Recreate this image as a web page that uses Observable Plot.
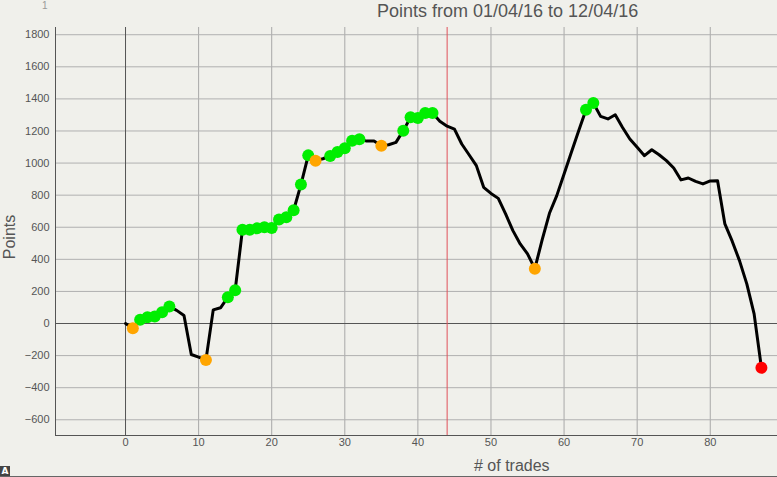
<!DOCTYPE html>
<html>
<head>
<meta charset="utf-8">
<script src="https://cdn.jsdelivr.net/npm/d3@7"></script>
<script src="https://cdn.jsdelivr.net/npm/@observablehq/plot@0.6"></script>
<style>
  body { margin: 0; background: #f0f0eb; font-family: "Liberation Sans", Arial, sans-serif; }
  #wrap { position: relative; width: 777px; height: 477px; overflow: hidden; }
  .lbl { position: absolute; color: #555; white-space: nowrap; }
</style>
</head>
<body>
<div id="wrap">
  <div id="chart"></div>
  <div class="lbl" style="left:42px;top:1px;font-size:10px;line-height:10px;color:#999">1</div>
  <div class="lbl" id="title" style="left:377px;top:1px;font-size:18px">Points from 01/04/16 to 12/04/16</div>
  <div class="lbl" style="left:-12px;top:228px;font-size:16px;transform:rotate(-90deg)">Points</div>
  <div class="lbl" style="left:474px;top:457px;font-size:16px"># of trades</div>
  <div style="position:absolute;left:0;top:466px;width:10px;height:10px;background:#444;color:#fff;font:bold 9px 'DejaVu Sans';text-align:center;line-height:10px">A</div>
  <div style="position:absolute;left:0;top:476px;width:777px;height:1px;background:#666"></div>
</div>
<script>
// cumulative points after each trade (trade 0 .. 87)
const points = [
  0, -30, 23, 39, 44, 70, 106, 82, 50, -193,
  -210, -228, 85, 98, 164, 207, 585, 585, 593, 600,
  596, 648, 662, 706, 866, 1048, 1015, 1027, 1044, 1069,
  1092, 1139, 1148, 1137, 1137, 1108, 1114, 1129, 1202, 1285,
  1281, 1312, 1312, 1260, 1230, 1212, 1119, 1052, 984, 849,
  811, 780, 683, 579, 496, 434, 342, 521, 687, 797,
  932, 1067, 1202, 1333, 1374, 1291, 1275, 1301, 1222, 1150,
  1098, 1046, 1083, 1052, 1015, 969, 895, 907, 886, 870,
  889, 890, 621, 513, 392, 247, 60, -276
];

// trades marked with a dot, by colour
const greenTrades = [2, 3, 4, 5, 6, 14, 15, 16, 17, 18, 19, 20, 21, 22, 23, 24, 25,
  28, 29, 30, 31, 32, 38, 39, 40, 41, 42, 63, 64];
const orangeTrades = [1, 11, 26, 35, 56];
const redTrades = [87];

const splitTrade = [44];
const xTicks = [0, 10, 20, 30, 40, 50, 60, 70, 80];
const yTicks = [-600, -400, -200, 0, 200, 400, 600, 800, 1000, 1200, 1400, 1600, 1800];

const xDomain = [-9.58, 89.2];
const yDomain = [-698, 1845];

const series = points.map((p, i) => ({trade: i, points: p}));
const dots = (list, color) => list.map(i => ({trade: i, points: points[i], color}));
const marked = [
  ...dots(greenTrades, "#00ee00"),
  ...dots(orangeTrades, "#ffa500"),
  ...dots(redTrades, "#ff0000")
];

const plot = Plot.plot({
  width: 777,
  height: 477,
  marginLeft: 55,
  marginRight: 0,
  marginTop: 27,
  marginBottom: 42,
  style: { background: "#f0f0eb", fontSize: "11px", fontFamily: "Liberation Sans, Arial, sans-serif", color: "#555", overflow: "visible" },
  x: { domain: xDomain, ticks: xTicks, tickSize: 0, tickPadding: 3, label: null, tickFormat: "d" },
  y: { domain: yDomain, ticks: yTicks, tickSize: 0, tickPadding: 6, label: null, tickFormat: "d" },
  marks: [
    Plot.ruleX(xTicks.filter(d => d !== 0), { stroke: "#a8a8a8", strokeWidth: 1 }),
    Plot.ruleY(yTicks.filter(d => d !== 0), { stroke: "#b0b0b0", strokeWidth: 1 }),
    Plot.ruleX([0], { stroke: "#555" }),
    Plot.ruleY([0], { stroke: "#555" }),
    Plot.ruleX(splitTrade, { stroke: "#e0505a" }),
    Plot.ruleX([xDomain[0]], { stroke: "#555" }),
    Plot.ruleY([yDomain[0]], { stroke: "#555" }),
    Plot.line(series, { x: "trade", y: "points", stroke: "#000", strokeWidth: 3, strokeLinejoin: "round" }),
    Plot.dot(marked, { x: "trade", y: "points", fill: "color", r: 6 })
  ]
});

document.querySelector("#chart").append(plot);
</script>
</body>
</html>
